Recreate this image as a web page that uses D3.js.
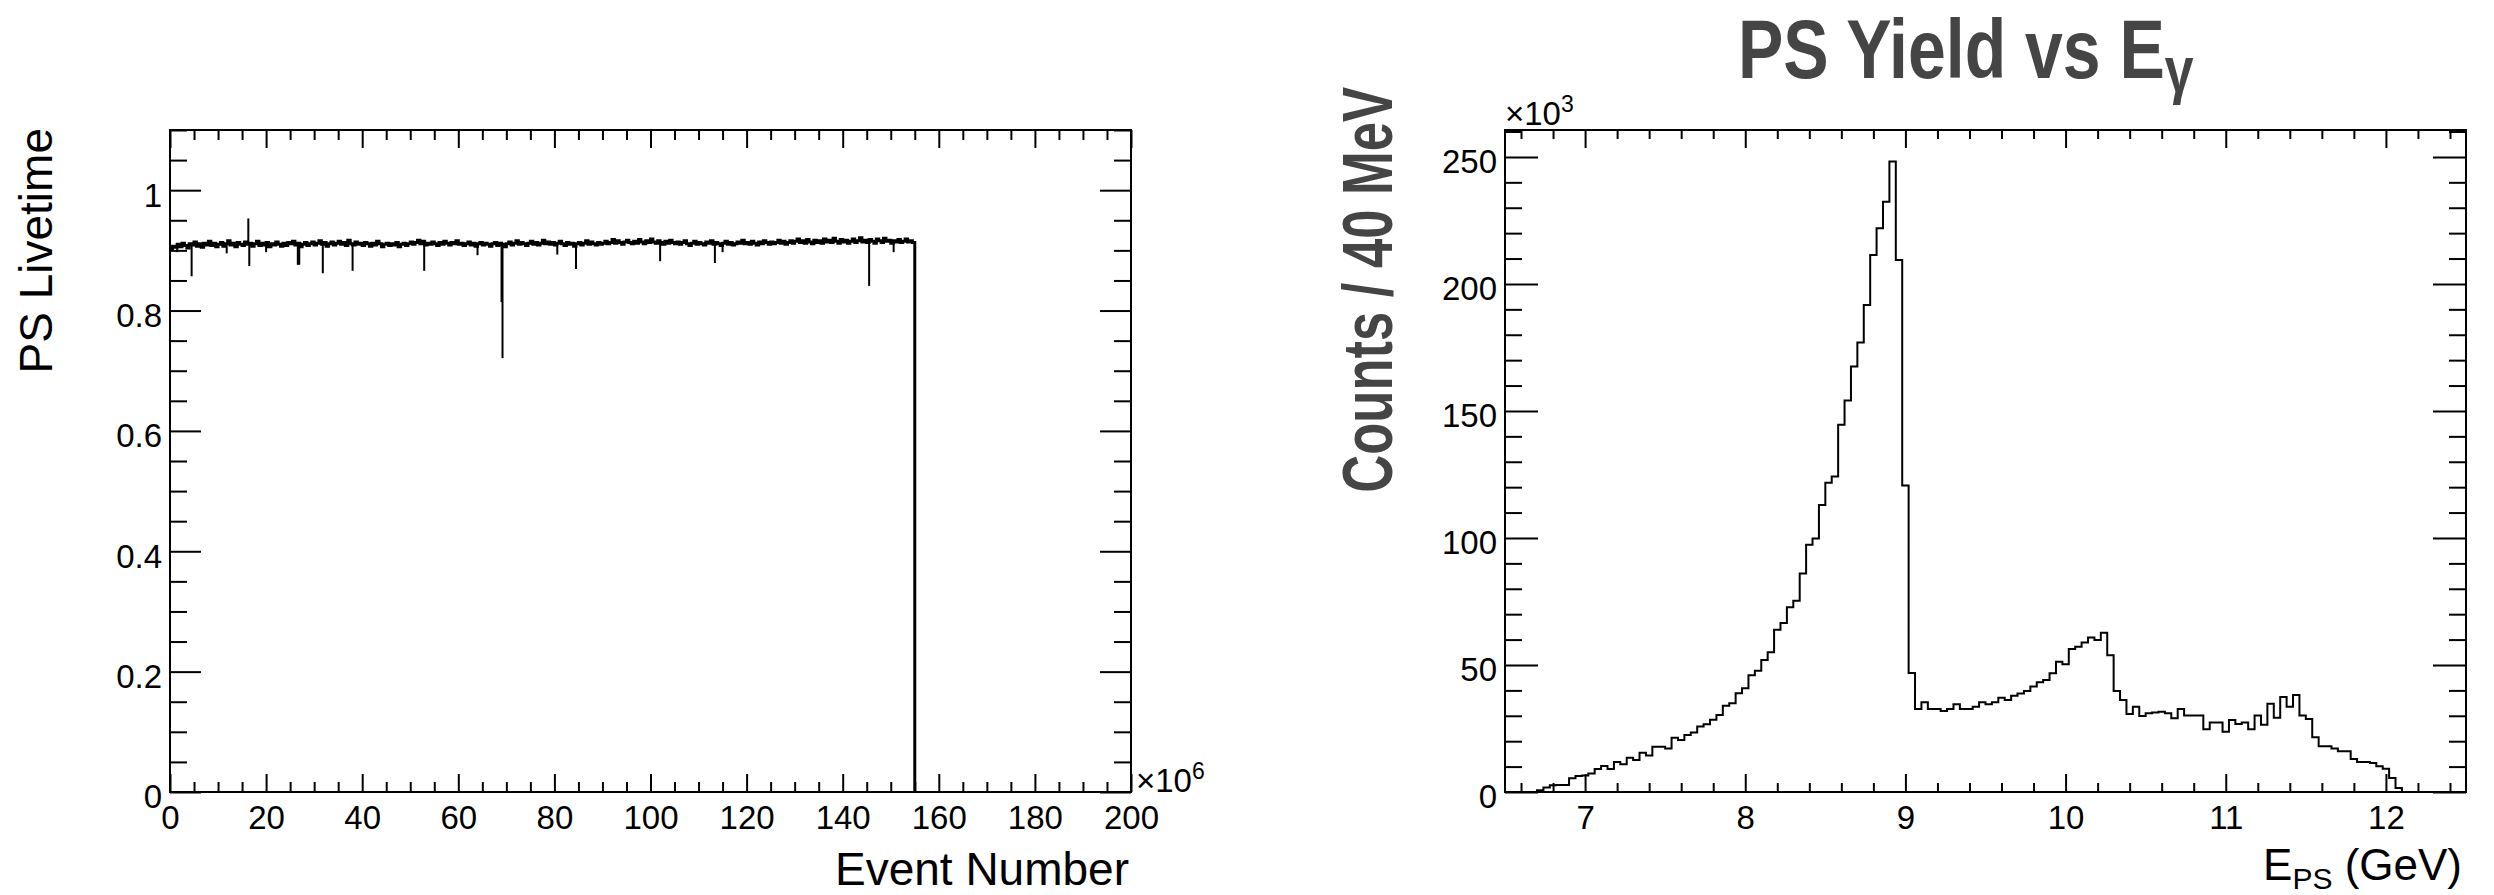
<!DOCTYPE html>
<html>
<head>
<meta charset="utf-8">
<script src="https://cdnjs.cloudflare.com/ajax/libs/d3/7.8.5/d3.min.js"></script>
<style>
  body { margin: 0; background: #fff; }
  svg text { font-family: "Liberation Sans", Arial, Helvetica, sans-serif; fill: #000; }
  svg text.heavy { font-family: "Liberation Sans", Arial, Helvetica, sans-serif;
                   font-weight: bold; fill: #454545; }
</style>
</head>
<body>
<svg id="chart" width="2494" height="895"></svg>
<script>

// # DATA
// # ------------------------------
// # ------------------------------

// ## left pad : PS livetime, one value per 0.5 x 10^6 events
var livetime_start     = 0
var livetime_bin_width = 0.5
var livetime_values = [
  0.903, 0.907, 0.905, 0.910, 0.906, 0.912, 0.908, 0.904, 0.911, 0.909,
  0.914, 0.907, 0.911, 0.905, 0.912, 0.909, 0.915, 0.908, 0.912, 0.906,
  0.910, 0.913, 0.907, 0.911, 0.916, 0.909, 0.912, 0.906, 0.913, 0.910,
  0.908, 0.914, 0.910, 0.912, 0.907, 0.911, 0.915, 0.908, 0.912, 0.909,
  0.913, 0.906, 0.911, 0.909, 0.914, 0.910, 0.907, 0.912, 0.908, 0.913,
  0.911, 0.915, 0.909, 0.912, 0.906, 0.910, 0.913, 0.908, 0.911, 0.914,
  0.909, 0.912, 0.916, 0.910, 0.913, 0.907, 0.911, 0.914, 0.909, 0.912,
  0.915, 0.910, 0.913, 0.908, 0.917, 0.911, 0.909, 0.914, 0.910, 0.912,
  0.908, 0.913, 0.911, 0.907, 0.912, 0.909, 0.915, 0.911, 0.906, 0.910,
  0.912, 0.908, 0.911, 0.909, 0.913, 0.906, 0.910, 0.912, 0.908, 0.911,
  0.914, 0.910, 0.913, 0.917, 0.911, 0.915, 0.909, 0.912, 0.910, 0.914,
  0.911, 0.908, 0.913, 0.910, 0.915, 0.912, 0.909, 0.913, 0.911, 0.916,
  0.910, 0.912, 0.908, 0.911, 0.914, 0.909, 0.912, 0.907, 0.911, 0.913,
  0.909, 0.912, 0.910, 0.907, 0.911, 0.913, 0.908, 0.912, 0.910, 0.906,
  0.911, 0.914, 0.909, 0.912, 0.916, 0.910, 0.913, 0.911, 0.908, 0.912,
  0.915, 0.910, 0.913, 0.909, 0.912, 0.917, 0.911, 0.914, 0.910, 0.913,
  0.909, 0.912, 0.915, 0.911, 0.908, 0.913, 0.910, 0.912, 0.907, 0.911,
  0.913, 0.909, 0.912, 0.916, 0.910, 0.914, 0.911, 0.909, 0.913, 0.910,
  0.912, 0.915, 0.911, 0.913, 0.918, 0.912, 0.916, 0.913, 0.910, 0.914,
  0.917, 0.913, 0.911, 0.915, 0.912, 0.918, 0.914, 0.911, 0.916, 0.913,
  0.919, 0.914, 0.912, 0.916, 0.913, 0.910, 0.915, 0.912, 0.917, 0.913,
  0.911, 0.914, 0.910, 0.913, 0.916, 0.911, 0.908, 0.912, 0.915, 0.910,
  0.913, 0.911, 0.909, 0.914, 0.912, 0.916, 0.910, 0.913, 0.911, 0.908,
  0.912, 0.915, 0.910, 0.913, 0.909, 0.911, 0.914, 0.912, 0.917, 0.911,
  0.913, 0.910, 0.915, 0.912, 0.909, 0.914, 0.911, 0.916, 0.913, 0.910,
  0.914, 0.911, 0.913, 0.917, 0.912, 0.915, 0.910, 0.913, 0.916, 0.912,
  0.915, 0.919, 0.913, 0.916, 0.912, 0.918, 0.914, 0.911, 0.917, 0.913,
  0.916, 0.912, 0.919, 0.914, 0.917, 0.913, 0.920, 0.915, 0.912, 0.918,
  0.914, 0.917, 0.912, 0.915, 0.919, 0.913, 0.916, 0.921, 0.914, 0.917,
  0.913, 0.918, 0.915, 0.912, 0.919, 0.916, 0.913, 0.920, 0.915, 0.917,
  0.912, 0.916, 0.914, 0.918, 0.913, 0.915, 0.919, 0.914, 0.916, 0.913
]
// narrow excursions (event number x10^6, livetime)
var spike_events = [1.5, 4.5, 11.8, 16.3, 16.5, 20.0, 26.6, 26.9, 31.8, 38.0, 52.9, 64.0,
                    69.0, 69.2, 80.6, 84.5, 102.0, 113.4, 115.0, 145.5, 150.6]
var spike_values = [0.897, 0.857, 0.895, 0.953, 0.874, 0.897, 0.876, 0.876, 0.862, 0.866, 0.866, 0.892,
                    0.814, 0.721, 0.893, 0.869, 0.882, 0.879, 0.897, 0.841, 0.897]

var livetime_x_ticks  = [0, 20, 40, 60, 80, 100, 120, 140, 160, 180, 200]
var livetime_y_ticks  = [0, 0.2, 0.4, 0.6, 0.8, 1]
var livetime_y_labels = ["0", "0.2", "0.4", "0.6", "0.8", "1"]

// ## right pad : PS yield vs E_gamma, 40 MeV bins from 6.5 GeV, counts x10^3
var yield_low       = 6.5
var yield_bin_width = 0.04
var yield_counts = [
    0.0,   0.0,   0.0,   0.0,   0.0,   0.7,   1.8,   2.7,   2.8,   2.8,
    5.4,   6.3,   6.5,   7.3,   9.1,  10.2,   9.1,  11.8,  10.9,  13.5,
   12.6,  15.5,  14.4,  17.8,  17.8,  17.1,  21.4,  20.5,  22.4,  23.4,
   25.8,  26.7,  28.4,  30.3,  34.0,  34.9,  38.9,  40.8,  46.0,  47.7,
   52.0,  55.0,  63.9,  66.5,  72.7,  75.3,  86.0,  97.3,  99.8, 113.0,
  121.7, 124.2, 144.6, 154.1, 167.5, 176.9, 191.7, 211.4, 221.9, 232.4,
  248.2, 209.4, 120.7,  46.8,  32.7,  35.3,  32.7,  32.7,  31.9,  32.7,
   34.5,  32.7,  32.7,  33.6,  35.3,  34.5,  35.3,  37.1,  36.2,  37.9,
   38.8,  39.8,  41.5,  43.2,  44.1,  46.7,  51.3,  50.3,  56.3,  57.2,
   58.9,  60.8,  59.8,  62.7,  53.8,  39.8,  36.2,  30.7,  33.6,  29.9,
   31.0,  31.3,  31.6,  31.0,  29.0,  32.7,  30.1,  30.1,  30.1,  24.7,
   27.4,  27.4,  23.7,  28.3,  26.8,  27.4,  24.7,  30.1,  26.5,  34.7,
   29.2,  37.4,  33.6,  38.2,  30.1,  28.7,  21.6,  18.0,  18.0,  17.1,
   16.0,  16.0,  13.0,  11.8,  11.8,  11.4,  10.1,   9.2,   5.5,   1.6,
    0.0,   0.0,   0.0,   0.0,   0.0,   0.0,   0.0,   0.0,   0.0,   0.0
]
var yield_x_ticks = [7, 8, 9, 10, 11, 12]
var yield_y_ticks = [0, 50, 100, 150, 200, 250]

// # LAYOUT
// # ------------------------------
// # ------------------------------
var svg = d3.select("#chart")

var pad_top    = 130,
    pad_bottom = 792,
    pad_w      = 961

var left_x0  = 170
var right_x0 = 1505

var x_live  = d3.scaleLinear().domain([0, 200]).range([left_x0, left_x0 + pad_w])
var y_live  = d3.scaleLinear().domain([0, 1.1]).range([pad_bottom, pad_top])
var x_yield = d3.scaleLinear().domain([6.5, 12.5]).range([right_x0, right_x0 + pad_w])
var y_yield = d3.scaleLinear().domain([0, 260.6]).range([pad_bottom, pad_top])

// # HELPERS
// # ------------------------------
// # ------------------------------

// ## add_axis
// # ------------------------------
var add_axis = function(orient, scale, values, size, translate, fmt, pad) {
  var axis = orient(scale)
      .tickValues(values)
      .tickSize(size)
      .tickPadding(pad || 0)
      .tickFormat(fmt || function() { return "" })

  var a = svg.append("g")
      .attr("transform", translate)
      .call(axis)
      .attr("font-family", null)
      .attr("font-size", null)

  a.select(".domain").remove()
  a.selectAll("line").attr("stroke", "#000").attr("stroke-width", 2)
  a.selectAll("text").style("font-size", "33px")
  return a
}

// ## minor_values
// # ------------------------------
var minor_values = function(lo, hi, step, major) {
  return d3.range(lo, hi + step / 2, step)
           .map(function(v) { return +v.toFixed(4) })
           .filter(function(v) { return major.indexOf(v) < 0 })
}

// ## hist_path
// # ------------------------------
var hist_path = function(x, y, low, width, values, from_zero) {
  var pts = values.map(function(v, i) { return [low + i * width, v] })
  var hi  = low + values.length * width
  pts.push([hi, values[values.length - 1]])
  if (from_zero) pts.unshift([low, 0])
  pts.push([hi, 0])
  var line = d3.line()
      .x(function(d) { return x(d[0]) })
      .y(function(d) { return y(d[1]) })
      .curve(d3.curveStepAfter)
  return line(pts)
}

// ## draw_frame
// # ------------------------------
var draw_frame = function(x0) {
  svg.append("rect")
     .attr("x", x0).attr("y", pad_top)
     .attr("width", pad_w).attr("height", pad_bottom - pad_top)
     .attr("fill", "none").attr("stroke", "#000").attr("stroke-width", 2)
}

// ## squeeze_text : condensed look, stretch a text to a given width
// # ------------------------------
var squeeze_text = function(sel, x0, y0, width, rotate) {
  var w = sel.node().getBBox().width
  sel.attr("transform", "translate(" + x0 + "," + y0 + ")" + (rotate ? " rotate(" + rotate + ")" : "") +
           " scale(" + (width / w) + ",1)")
}

// # LEFT PAD
// # ------------------------------
// # ------------------------------
svg.append("path")
   .attr("d", hist_path(x_live, y_live, livetime_start, livetime_bin_width, livetime_values, false))
   .attr("fill", "none").attr("stroke", "#000").attr("stroke-width", 3)

svg.selectAll(".spike")
   .data(spike_events)
   .enter()
   .append("line")
   .attr("class", "spike")
   .attr("x1", function(d) { return x_live(d) })
   .attr("x2", function(d) { return x_live(d) })
   .attr("y1", function(d) { return y_live(livetime_values[Math.floor((d - livetime_start) / livetime_bin_width)]) })
   .attr("y2", function(d, i) { return y_live(spike_values[i]) })
   .attr("stroke", "#000").attr("stroke-width", 2)

draw_frame(left_x0)

var live_x_minor = minor_values(0, 200, 5, livetime_x_ticks)
var live_y_minor = minor_values(0, 1.1, 0.05, livetime_y_ticks)

add_axis(d3.axisBottom, x_live, livetime_x_ticks, -18, "translate(0," + pad_bottom + ")", function(d) { return d }, 14)
add_axis(d3.axisBottom, x_live, live_x_minor, -10, "translate(0," + pad_bottom + ")")
add_axis(d3.axisTop, x_live, livetime_x_ticks, -18, "translate(0," + pad_top + ")")
add_axis(d3.axisTop, x_live, live_x_minor, -10, "translate(0," + pad_top + ")")
add_axis(d3.axisLeft, y_live, livetime_y_ticks, -31, "translate(" + left_x0 + ",0)",
         function(d, i) { return livetime_y_labels[i] }, 8)
  .selectAll("text").attr("dy", "0.48em")
add_axis(d3.axisLeft, y_live, live_y_minor, -17, "translate(" + left_x0 + ",0)")
add_axis(d3.axisRight, y_live, livetime_y_ticks, -31, "translate(" + (left_x0 + pad_w) + ",0)")
add_axis(d3.axisRight, y_live, live_y_minor, -17, "translate(" + (left_x0 + pad_w) + ",0)")

var exp6 = svg.append("text").attr("x", left_x0 + pad_w + 5).attr("y", 792).style("font-size", "33px")
exp6.append("tspan").text("\u00d710")
exp6.append("tspan").text("6").style("font-size", "23px").attr("dy", -13)

svg.append("text")
   .attr("x", 1129).attr("y", 885)
   .attr("text-anchor", "end")
   .style("font-size", "46px")
   .text("Event Number")

svg.append("text")
   .attr("transform", "translate(52,128) rotate(-90)")
   .attr("text-anchor", "end")
   .style("font-size", "46px")
   .text("PS Livetime")

// # RIGHT PAD
// # ------------------------------
// # ------------------------------
svg.append("path")
   .attr("d", hist_path(x_yield, y_yield, yield_low, yield_bin_width, yield_counts, true))
   .attr("fill", "none").attr("stroke", "#000").attr("stroke-width", 2)

draw_frame(right_x0)

var yield_x_minor = minor_values(6.6, 12.4, 0.2, yield_x_ticks)
var yield_y_minor = minor_values(0, 260, 10, yield_y_ticks)

add_axis(d3.axisBottom, x_yield, yield_x_ticks, -18, "translate(0," + pad_bottom + ")", function(d) { return d }, 14)
add_axis(d3.axisBottom, x_yield, yield_x_minor, -9, "translate(0," + pad_bottom + ")")
add_axis(d3.axisTop, x_yield, yield_x_ticks, -18, "translate(0," + pad_top + ")")
add_axis(d3.axisTop, x_yield, yield_x_minor, -9, "translate(0," + pad_top + ")")
add_axis(d3.axisLeft, y_yield, yield_y_ticks, -33, "translate(" + right_x0 + ",0)", function(d) { return d }, 8)
  .selectAll("text").attr("dy", "0.48em")
add_axis(d3.axisLeft, y_yield, yield_y_minor, -17, "translate(" + right_x0 + ",0)")
add_axis(d3.axisRight, y_yield, yield_y_ticks, -33, "translate(" + (right_x0 + pad_w) + ",0)")
add_axis(d3.axisRight, y_yield, yield_y_minor, -17, "translate(" + (right_x0 + pad_w) + ",0)")

var exp3 = svg.append("text").attr("x", right_x0).attr("y", 125).style("font-size", "33px")
exp3.append("tspan").text("\u00d710")
exp3.append("tspan").text("3").style("font-size", "23px").attr("dy", -13)

var xlab = svg.append("text")
   .attr("x", 2462).attr("y", 880)
   .attr("text-anchor", "end")
   .style("font-size", "44px")
xlab.append("tspan").text("E")
xlab.append("tspan").text("PS").style("font-size", "30px").attr("dy", 9)
xlab.append("tspan").text(" (GeV)").attr("dy", -9)

// ## y title of right pad
// # ------------------------------
var ylab = svg.append("text")
   .attr("class", "heavy")
   .attr("x", 0).attr("y", 0)
   .attr("text-anchor", "end")
   .style("font-size", "70px")
   .text("Counts / 40 MeV")

squeeze_text(ylab, 1392, 87, 406, -90)

// ## title
// # ------------------------------
var title = svg.append("text")
   .attr("class", "heavy")
   .attr("x", 0).attr("y", 0)
   .style("font-size", "84px")
title.append("tspan").text("PS Yield vs E")
title.append("tspan").text("\u03b3").style("font-size", "64px").attr("dy", 14)

squeeze_text(title, 1738, 78, 456)

</script>
</body>
</html>
